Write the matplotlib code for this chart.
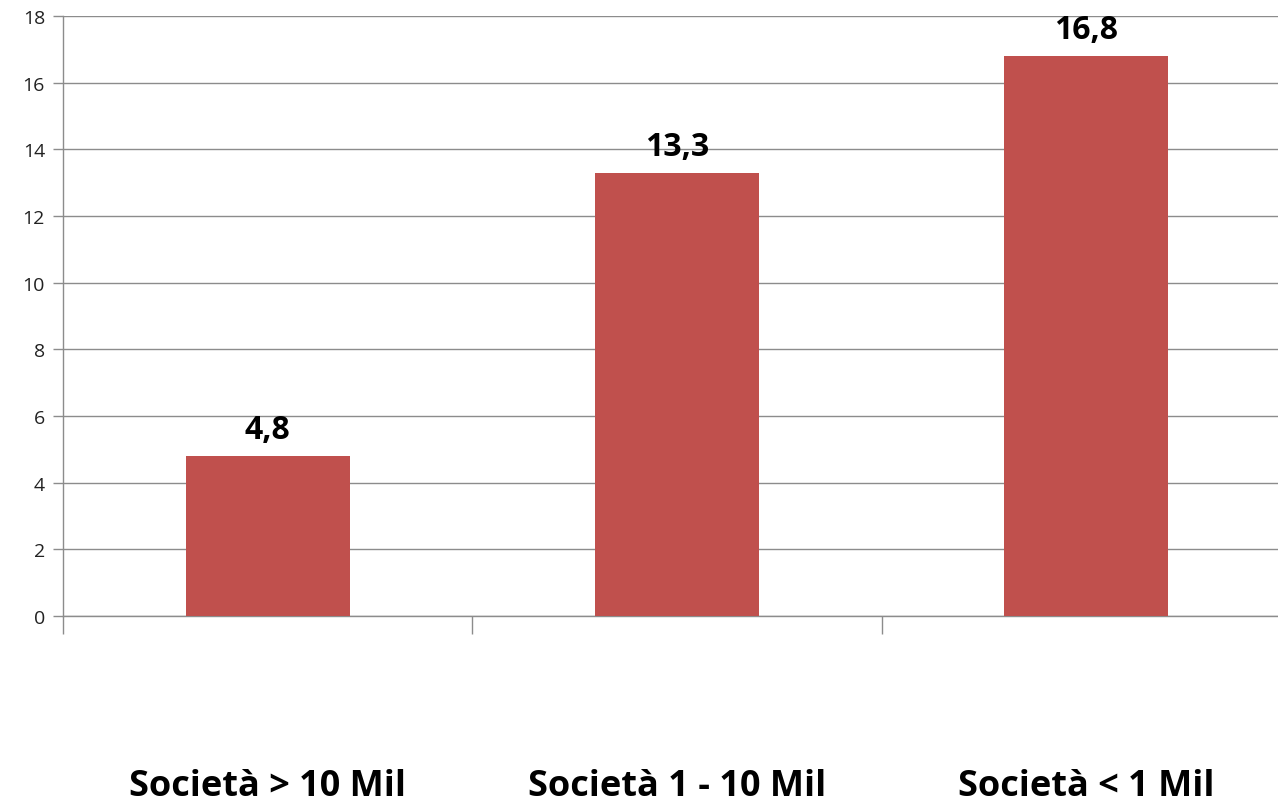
import matplotlib
matplotlib.use('Agg')
import matplotlib.pyplot as plt
import numpy as np

categories = ['Società > 10 Mil', 'Società 1 - 10 Mil', 'Società < 1 Mil']
values = [4.8, 13.3, 16.8]
value_labels = ['4,8', '13,3', '16,8']

plt.rcParams['font.family'] = ['Open Sans', 'DejaVu Sans']

fig = plt.figure(figsize=(12.78, 8.03), dpi=100)
ax = fig.add_axes([63/1278, 1-617/803, (1291-63)/1278, (617-17)/803])

grid_col = '#8c8c8c'
x = np.arange(len(categories))
ax.bar(x, values, width=0.4, color='#C0504D', zorder=3)

ax.set_xlim(-0.5, len(categories)-0.5)
ax.set_ylim(0, 18)
ax.set_yticks(range(0, 19, 2))
ax.yaxis.grid(True, color=grid_col, linewidth=1, zorder=0)

# boundaries between categories get the tick marks
ax.set_xticks(np.arange(-0.5, len(categories), 1.0))
ax.set_xticklabels([])
ax.tick_params(axis='x', direction='out', length=13, color=grid_col, width=1)
ax.tick_params(axis='y', direction='out', length=7, color=grid_col, width=1,
               labelsize=14, labelcolor='#222222', pad=6)

for s in ['top', 'right']:
    ax.spines[s].set_visible(False)
for s in ['left', 'bottom']:
    ax.spines[s].set_color(grid_col)
    ax.spines[s].set_linewidth(1)

for xi, v, lab in zip(x, values, value_labels):
    ax.annotate(lab, (xi, v), xytext=(0, 7), textcoords='offset points',
                ha='center', va='bottom', fontsize=23, fontweight='bold')

for xi, cat in zip(x, categories):
    ax.text(xi, -5.1, cat, ha='center', va='center', fontsize=26,
            fontweight='bold', transform=ax.transData, clip_on=False)

fig.savefig('out.png', dpi=100)
